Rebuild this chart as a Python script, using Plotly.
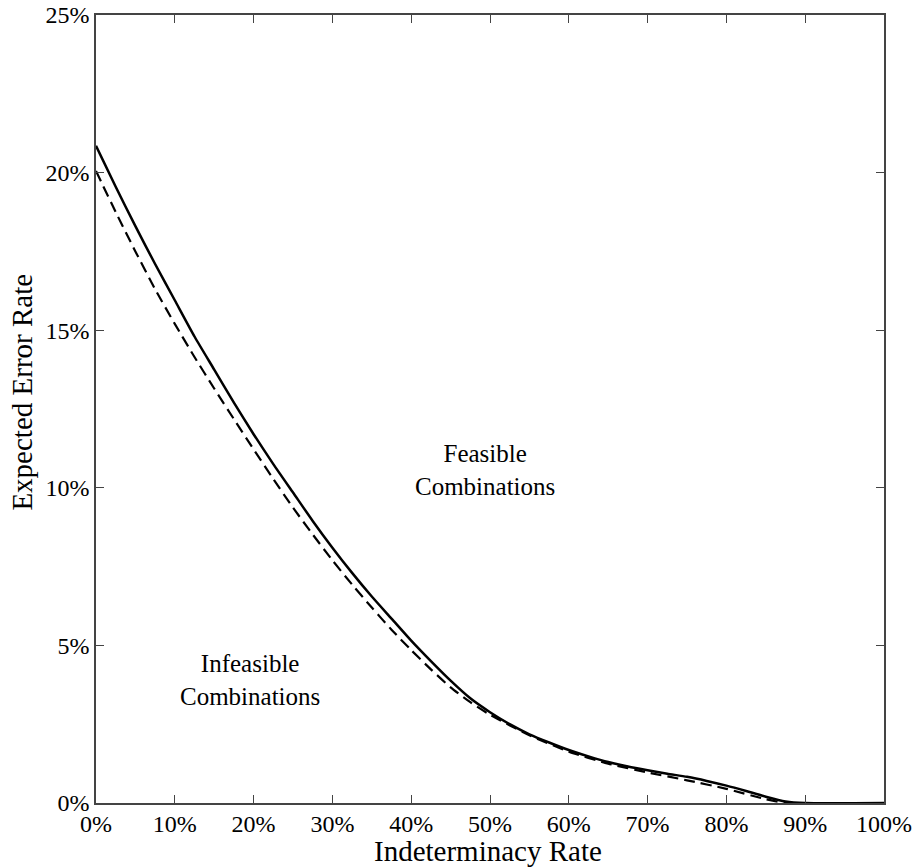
import plotly.graph_objects as go

# Indeterminacy rate (%) and expected error rate (%)
solid_x = [0, 2.5, 5, 7.5, 10, 12.5, 15, 17.5, 20, 22.5, 25, 27.5, 30, 32.5, 35, 37.5, 40, 42.5, 45, 47.5,
           50, 52.5, 55, 57.5, 60, 62.5, 65, 67.5, 70, 72.5, 75, 77.5, 80, 82.5, 85, 87.5, 90, 100]
solid_y = [20.85, 19.55, 18.3, 17.1, 15.95, 14.8, 13.75, 12.7, 11.7, 10.75, 9.85, 8.95, 8.1, 7.3, 6.55, 5.85,
           5.15, 4.5, 3.88, 3.32, 2.88, 2.5, 2.18, 1.92, 1.68, 1.48, 1.3, 1.16, 1.04, 0.93, 0.83, 0.7, 0.55,
           0.38, 0.2, 0.05, 0.0, 0.0]

dash_x = [0, 2.5, 5, 7.5, 10, 12.5, 15, 17.5, 20, 22.5, 25, 27.5, 30, 32.5, 35, 37.5, 40, 42.5, 45, 47.5,
          50, 55, 60, 65, 70, 75, 80, 85, 87.5, 100]
dash_y = [20.05, 18.75, 17.5, 16.3, 15.2, 14.15, 13.15, 12.18, 11.22, 10.28, 9.37, 8.52, 7.7, 6.93, 6.2, 5.5,
          4.85, 4.24, 3.67, 3.2, 2.8, 2.15, 1.63, 1.25, 0.97, 0.72, 0.45, 0.12, 0.0, 0.0]

x_ticks = [0, 10, 20, 30, 40, 50, 60, 70, 80, 90, 100]
y_ticks = [0, 5, 10, 15, 20, 25]

font_family = "Liberation Serif"
tick_font = dict(family=font_family, size=24, color="black")

fig = go.Figure()
fig.add_trace(go.Scatter(x=solid_x, y=solid_y, mode="lines",
                         line=dict(color="black", width=2.5, shape="spline", smoothing=0.6), showlegend=False))
fig.add_trace(go.Scatter(x=dash_x, y=dash_y, mode="lines",
                         line=dict(color="black", width=2.2, dash="11px,6px", shape="spline", smoothing=0.6),
                         showlegend=False))

fig.add_annotation(x=49.4, y=10.57, text="Feasible<br>Combinations", showarrow=False,
                   font=dict(family=font_family, size=25, color="black"), align="center")
fig.add_annotation(x=19.5, y=3.9, text="Infeasible<br>Combinations", showarrow=False,
                   font=dict(family=font_family, size=25, color="black"), align="center")

# axis titles
fig.add_annotation(xref="paper", yref="paper", x=0.4975, y=-0.0615, text="Indeterminacy Rate",
                   showarrow=False, yanchor="middle", xanchor="center",
                   font=dict(family=font_family, size=29, color="black"))
fig.add_annotation(xref="paper", yref="paper", x=-0.094, y=0.522, text="Expected Error Rate",
                   showarrow=False, textangle=-90, yanchor="middle", xanchor="center",
                   font=dict(family=font_family, size=29, color="black"))

axis_common = dict(showgrid=False, zeroline=False, showline=True, linecolor="#444444", linewidth=1.5,
                   mirror="ticks", ticks="inside", ticklen=8, tickwidth=1.2, tickcolor="#444444",
                   tickfont=tick_font, automargin=False)

fig.update_xaxes(range=[0, 100], tickvals=x_ticks, ticktext=[f"{v}%" for v in x_ticks],
                 ticklabelstandoff=-2, **axis_common)
fig.update_yaxes(range=[0, 25], tickvals=y_ticks, ticktext=[f"{v}%" for v in y_ticks], **axis_common)

fig.update_layout(width=919, height=867, margin=dict(l=96, r=35, t=15, b=64),
                  plot_bgcolor="white", paper_bgcolor="white")

fig.write_html("out.html")
